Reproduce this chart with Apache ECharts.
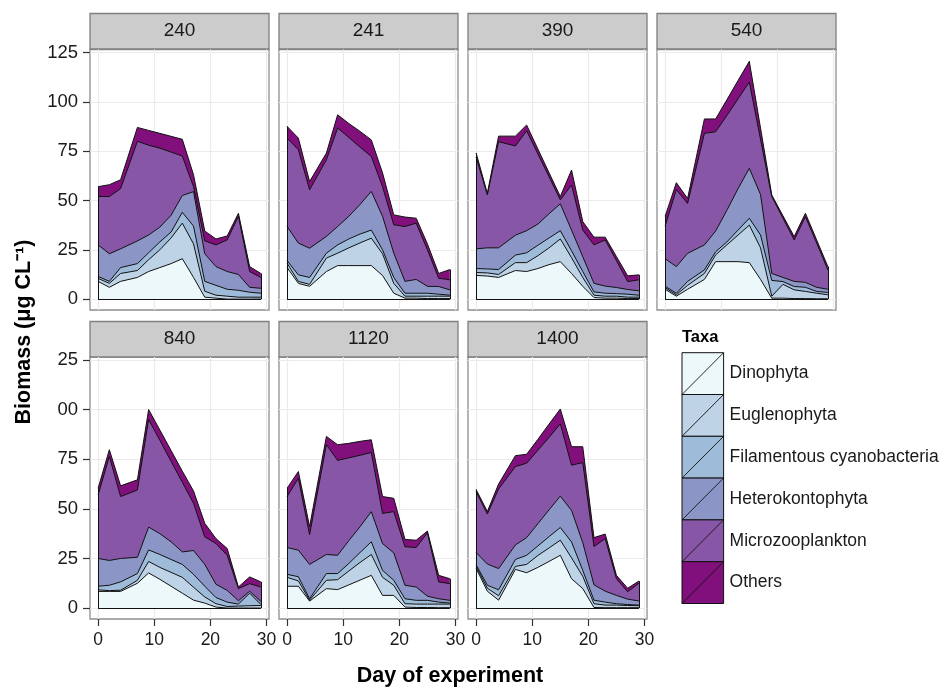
<!DOCTYPE html>
<html><head><meta charset="utf-8">
<script src="https://cdn.jsdelivr.net/npm/echarts@6/dist/echarts.min.js"></script>
<style>html,body{margin:0;padding:0;background:#fff}#c{width:947px;height:688px}</style>
</head><body><div id="c"></div>
<script>
// ---- data ----
const panels = ['240', '241', '390', '540', '840', '1120', '1400'];
const days = [0, 2, 4, 7, 9, 11, 13, 15, 17, 19, 21, 23, 25, 27, 29];
const taxa = ['Dinophyta', 'Euglenophyta', 'Filamentous cyanobacteria', 'Heterokontophyta', 'Microzooplankton', 'Others'];
const yTicks = [0, 25, 50, 75, 100, 125];
const xTicks = [0, 10, 20, 30];

// one row per panel (same order as panels), one value per day
const dinophyta = [
  [9, 6, 9, 11, 14, 16, 18, 20.5, 11, 1, 0.5, 0, 0, 0, 0],
  [16, 8, 6.5, 14, 17, 17, 17, 17, 12, 3, 0.5, 0.5, 0.3, 0.3, 0.3],
  [12, 11.7, 11, 14.5, 14, 15.5, 17.5, 19, 13, 6.5, 0.8, 0.5, 0.5, 0.3, 0.3],
  [5, 1.5, 5, 10, 19, 19, 19, 18.5, 10, 0.5, 0.5, 0.3, 0.3, 0.2, 0.2],
  [8.4, 8.4, 8.4, 12.5, 17.7, 14.5, 11, 7.5, 4, 2.5, 0.5, 0, 0, 0, 0],
  [11, 11, 3.5, 9.8, 9.3, 11.7, 14.1, 16.5, 6.4, 6.4, 0.5, 0.3, 0.3, 0.2, 0.2],
  [20, 8.5, 4, 19.5, 17.8, 20.5, 23.5, 26.6, 14.8, 9.8, 0.3, 0.2, 0.2, 0.2, 0.2]
];
const euglenophyta = [
  [1.5, 2, 4, 3.5, 6, 9, 13, 18, 17, 3, 1.5, 1.5, 1, 1, 1],
  [2.2, 1, 1, 6.8, 6.3, 9, 11.5, 13.9, 11, 5, 1, 1, 1.2, 1.2, 1.2],
  [1.5, 1.6, 1.5, 4, 4.5, 6.5, 8.5, 11.5, 8, 4.5, 1.2, 1, 1, 0.7, 0.7],
  [0.8, 0.7, 2, 3, 3.4, 8.5, 13.5, 19, 16, 1, 7, 4.4, 3.6, 2.8, 2],
  [0.8, 0.4, 0.6, 1.5, 5.8, 6, 7, 8, 6.5, 3.1, 1.7, 0.8, 1, 1.2, 1.3],
  [4.5, 2.7, 0.5, 4.2, 5, 7, 8.9, 10.5, 9.1, 5.1, 1.7, 1.7, 1.7, 1.8, 1.8],
  [1, 1.5, 2.2, 1.5, 4.2, 6, 6.8, 7.6, 10.5, 6.2, 1.9, 1.3, 1.3, 1.1, 1]
];
const filamentous = [
  [1, 1, 3, 3.5, 3.5, 4, 3, 5.5, 9, 5, 5, 3.5, 3.5, 2.5, 2],
  [1.3, 3.3, 3.5, 2.5, 4.2, 4.5, 4.5, 4.1, 2, 3, 1.5, 1.5, 1.5, 1, 0.5],
  [2, 2, 2.5, 3.8, 5, 5.3, 5, 4.2, 3.5, 3, 1.7, 1.5, 1.3, 1.5, 1],
  [0.7, 0.8, 2, 1.8, 1.6, 1.5, 2.5, 3.5, 6.5, 8, 1.4, 1.7, 2.1, 0.9, 1.2],
  [1.8, 2.7, 4.2, 3.4, 5.8, 6.5, 6.5, 6.5, 6.5, 5.4, 3.1, 2.2, 1, 6.3, 0.5],
  [1.5, 2.1, 0.7, 3.4, 3.1, 3.8, 5, 6.4, 3.5, 2.5, 2.5, 1.9, 1.9, 1, 0.5],
  [0.8, 1.5, 3, 3.5, 4.6, 4.8, 5.7, 6.4, 8, 3, 1.8, 1.5, 0.7, 0.5, 0.3]
];
const heterokontophyta = [
  [16, 14, 9.5, 11.5, 9, 7.5, 8.5, 8.5, 17.5, 14, 9.5, 9, 8, 2.5, 2.5],
  [17.3, 16.1, 14.8, 8.5, 9.3, 11.5, 15, 19.6, 17, 12.3, 6, 7, 3.5, 3.9, 2.7],
  [10, 10.7, 11, 10.1, 11.2, 10.7, 12.3, 13.6, 10.5, 7.5, 4.3, 3.6, 3.1, 2.4, 2.2],
  [14, 13.5, 14.2, 12.7, 10.5, 16, 21, 25.3, 20.5, 3.5, 2.1, 2.6, 2.5, 2.1, 1.6],
  [14, 12.5, 11.8, 8.2, 11.5, 10.5, 8.9, 6.3, 12, 11, 6.7, 5.9, 1.7, 1, 1.6],
  [13.5, 13.4, 17.3, 9.6, 9.2, 11.5, 13, 15.2, 13.5, 13.8, 6.8, 6.7, 2.1, 1.7, 1.4],
  [6.2, 10.7, 10.7, 7.3, 8.9, 11.2, 13.5, 15.8, 15.9, 14, 7.7, 5.5, 4.2, 2.7, 2.1]
];
const microzooplankton = [
  [24.5, 29, 30.5, 50.5, 45.5, 40, 32, 20, 2.5, 6.5, 11, 16, 29.5, 8, 5.5],
  [44.8, 47.3, 29.6, 38.8, 49.9, 39.9, 29, 17.7, 15, 14.4, 27.8, 28.5, 18.5, 4.2, 5.1],
  [46.5, 26.8, 53.8, 45.2, 50.6, 35.6, 18.7, 2, 22.8, 13.5, 19.5, 23.4, 13.6, 4, 5.6],
  [16.5, 39, 25.3, 56.5, 50.3, 48, 45.5, 43.7, 28, 39, 30, 21, 33.3, 22.5, 9.8],
  [32, 52.4, 31.2, 33.9, 54.2, 47, 40.5, 35.1, 23.8, 13.9, 20.5, 17.7, 6.1, 3.8, 7.2],
  [25.7, 36.2, 15, 55.3, 47.8, 41.7, 36, 29.8, 15.2, 20.8, 19.4, 19.9, 31.9, 8.5, 8.4],
  [30.7, 25.2, 40.1, 39.5, 37.5, 37, 36.5, 36.4, 22.8, 40.3, 19.3, 26.5, 8.4, 3.7, 8.9]
];
const others = [
  [5, 6, 4.5, 7, 7.5, 7.5, 8, 8.5, 6, 5, 3, 2, 1.5, 2.5, 2],
  [5.9, 5.9, 4.2, 3.4, 6.7, 7.1, 8, 8.4, 7, 5, 4.8, 2.5, 3, 2.4, 5.2],
  [2, 0.8, 2.8, 5, 2.9, 2.5, 2, 1.7, 7.6, 4.3, 3.9, 1.4, 2.1, 2.9, 2.5],
  [5, 3.5, 2.5, 7.3, 6.5, 8, 9.3, 10.5, 5.7, 0.8, 1.2, 1.7, 1.7, 1.5, 1.7],
  [3.4, 3.4, 5.4, 5.1, 5, 5.2, 5.5, 5.6, 6.2, 6.8, 2.5, 3.4, 0.8, 3.4, 2.6],
  [4.2, 3.4, 4, 4.2, 7.9, 7.3, 7, 6.4, 8.5, 6.7, 3.7, 3.7, 0.9, 3.3, 2.5],
  [1, 1.2, 2.5, 5.5, 4.5, 5.5, 6.7, 7.5, 9.3, 8, 4.5, 2.3, 1.7, 1.8, 1.1]
];

// ---- styling / layout ----
const layers = [dinophyta, euglenophyta, filamentous, heterokontophyta, microzooplankton, others];
const colors = ['#edf8fb', '#bfd3e6', '#9ebcda', '#8c96c6', '#8856a7', '#810f7c'];
const FONT = '"Liberation Sans", Arial, Helvetica, sans-serif';
const colLeft = [90, 279, 468, 657];
const PW = 179;
const rows = [{ stripTop: 13.5, top: 49.5, bottom: 310 }, { stripTop: 321.5, top: 357, bottom: 619 }];
const STRIP_H = 35.5;

const grids = [], xAxes = [], yAxes = [], series = [], graphics = [];

panels.forEach((p, i) => {
  const r = i < 4 ? 0 : 1;
  const c = i < 4 ? i : i - 4;
  const row = rows[r];
  grids.push({
    left: colLeft[c], top: row.top, width: PW, height: row.bottom - row.top,
    show: true, backgroundColor: '#ffffff', borderColor: '#8f8f8f', borderWidth: 1.3, containLabel: false
  });
  xAxes.push({
    gridIndex: i, type: 'value', min: -1.45, max: 30.45,
    axisLine: { show: false, onZero: false },
    axisTick: { show: r === 1, length: 7, lineStyle: { color: '#333', width: 1.2 }, customValues: xTicks },
    axisLabel: { show: r === 1, customValues: xTicks, fontSize: 17.5, color: '#1a1a1a', margin: 12, fontFamily: FONT },
    splitLine: { show: true, lineStyle: { color: '#ebebeb', width: 1.2 } }
  });
  yAxes.push({
    gridIndex: i, type: 'value', min: -5.5, max: 126.5,
    axisLine: { show: false, onZero: false },
    axisTick: { show: c === 0, length: 7, lineStyle: { color: '#333', width: 1.2 }, customValues: yTicks },
    axisLabel: {
      show: c === 0, customValues: yTicks, fontSize: 18.5, color: '#1a1a1a', margin: 12, fontFamily: FONT,
      formatter: v => (r === 1 && v === 125) ? '25' : (r === 1 && v === 100) ? '00' : String(v)
    },
    splitLine: { show: true, lineStyle: { color: '#ebebeb', width: 1.2 } }
  });
  // cumulative totals per layer (stacked areas), painted from the top layer down
  const cum = [];
  layers.forEach((L, k) => {
    cum.push(days.map((d, j) => (k ? cum[k - 1][j] : 0) + L[i][j]));
  });
  const last = days.length - 1;
  for (let k = layers.length - 1; k >= 0; k--) {
    const s = {
      type: 'line', name: taxa[k], xAxisIndex: i, yAxisIndex: i,
      data: days.map((d, j) => [d, cum[k][j]]),
      symbol: 'none', silent: true, animation: false,
      lineStyle: { color: '#111', width: 1 },
      itemStyle: { color: colors[k] },
      areaStyle: { color: colors[k], opacity: 1, origin: 0 }
    };
    if (k === layers.length - 1) {
      s.markLine = {
        silent: true, symbol: ['none', 'none'], animation: false, label: { show: false },
        lineStyle: { color: '#111', width: 1, type: 'solid' },
        data: [
          [{ coord: [days[0], 0] }, { coord: [days[0], cum[k][0]] }],
          [{ coord: [days[last], 0] }, { coord: [days[last], cum[k][last]] }]
        ]
      };
    }
    if (k === 0) {
      s.markLine = {
        silent: true, symbol: ['none', 'none'], animation: false, label: { show: false },
        lineStyle: { color: '#111', width: 1, type: 'solid' },
        data: [[{ coord: [days[0], 0] }, { coord: [days[last], 0] }]]
      };
    }
    series.push(s);
  }
  // facet strip
  graphics.push({
    type: 'rect', shape: { x: colLeft[c], y: row.stripTop, width: PW, height: STRIP_H },
    style: { fill: '#cccccc', stroke: '#7f7f7f', lineWidth: 1.3 }, silent: true
  });
  graphics.push({
    type: 'text', x: colLeft[c] + PW / 2, y: row.stripTop + STRIP_H / 2,
    style: { text: p, fontSize: 19, fontFamily: FONT, fill: '#1a1a1a', textAlign: 'center', textVerticalAlign: 'middle' },
    silent: true
  });
});

// axis titles
graphics.push({
  type: 'text', x: 24, y: 332, rotation: Math.PI / 2,
  style: { text: 'Biomass (\u03bcg CL\u207b\u00b9)', fontSize: 21.5, fontWeight: 'bold', fontFamily: FONT, fill: '#000', textAlign: 'center', textVerticalAlign: 'middle' },
  silent: true
});
graphics.push({
  type: 'text', x: 450, y: 676,
  style: { text: 'Day of experiment', fontSize: 21.5, fontWeight: 'bold', fontFamily: FONT, fill: '#000', textAlign: 'center', textVerticalAlign: 'middle' },
  silent: true
});

// legend
const LX = 682, LY = 352.7, KW = 41.6, KH = 41.8;
graphics.push({
  type: 'text', x: LX, y: 337,
  style: { text: 'Taxa', fontSize: 16.5, fontWeight: 'bold', fontFamily: FONT, fill: '#000', textAlign: 'left', textVerticalAlign: 'middle' },
  silent: true
});
taxa.forEach((t, k) => {
  const y = LY + k * KH;
  graphics.push({
    type: 'rect', shape: { x: LX, y: y, width: KW, height: KH },
    style: { fill: colors[k], stroke: '#111', lineWidth: 1 }, silent: true
  });
  graphics.push({
    type: 'line', shape: { x1: LX, y1: y + KH, x2: LX + KW, y2: y },
    style: { stroke: '#111', lineWidth: 0.9 }, silent: true
  });
  graphics.push({
    type: 'text', x: LX + KW + 6, y: y + KH / 2,
    style: { text: t, fontSize: 17.5, fontFamily: FONT, fill: '#1a1a1a', textAlign: 'left', textVerticalAlign: 'middle' },
    silent: true
  });
});

const chart = echarts.init(document.getElementById('c'), null, { renderer: 'canvas' });
chart.setOption({
  animation: false,
  backgroundColor: '#ffffff',
  grid: grids,
  xAxis: xAxes,
  yAxis: yAxes,
  series: series,
  graphic: graphics
});
</script>
</body></html>
